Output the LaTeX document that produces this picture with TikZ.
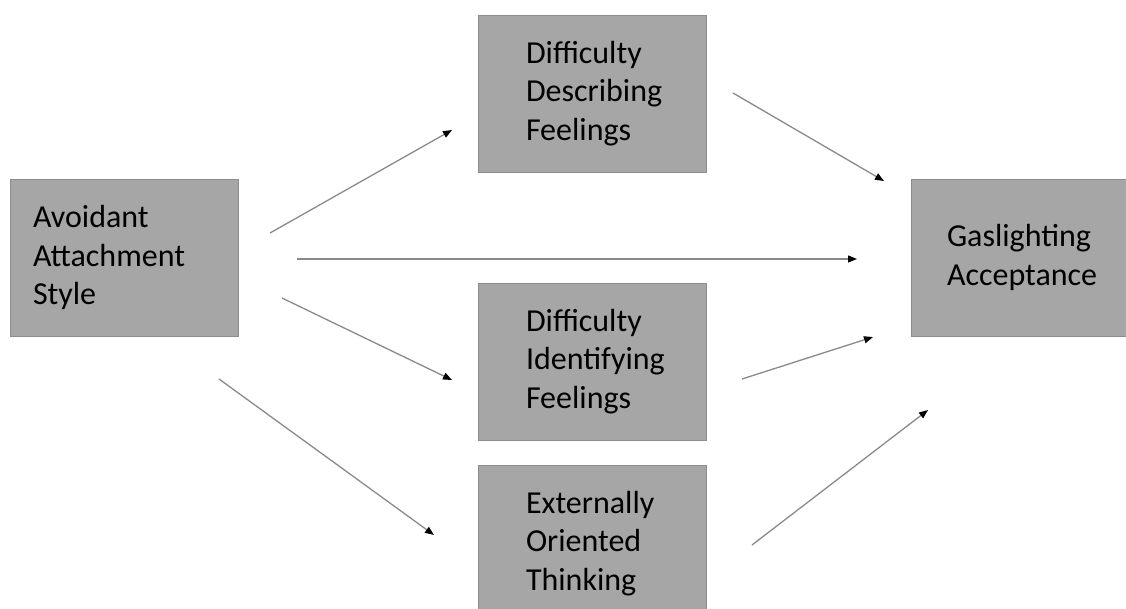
\documentclass[tikz,border=0pt]{standalone}
\usepackage{fontspec}
\setmainfont{Carlito}
\usepackage{tikz}
\usetikzlibrary{positioning,arrows.meta,calc}
\definecolor{boxfill}{HTML}{A6A6A6}
\definecolor{boxline}{HTML}{8C8C8C}
\definecolor{linkgray}{HTML}{8A8A8A}
\tikzset{
  construct/.style={draw=boxline, line width=1pt, fill=boxfill, align=left,
                    minimum width=228pt, minimum height=157pt, inner sep=0pt,
                    font=\fontsize{32}{38.5}\selectfont, text width=#1},
  construct/.default=132pt,
  path/.style={draw=linkgray, line width=1.3pt,
               -{Triangle[length=9pt,width=7pt,color=black]}},
}
\begin{document}
\begin{tikzpicture}[x=1pt,y=-1pt]
\useasboundingbox[clip] (0,0) rectangle (1126,608);
\node[construct=182pt] (avoid) at (124,257.5) {Avoidant\\Attachment\\Style};
\node[construct] (ddf) at (592,93.5) {Difficulty\\Describing\\Feelings};
\node[construct] (dif) at (592,361.5) {Difficulty\\Identifying\\Feelings};
\node[construct] (eot) at (592,543.5) {Externally\\Oriented\\Thinking};
\node[construct=156pt] (gas) at (1025,257.5) {Gaslighting\\Acceptance};
% path ends, kept clear of the boxes
\coordinate (a1) at (270,233);  \coordinate (b1) at (452,130);
\coordinate (a2) at (297,259);  \coordinate (b2) at (857,259);
\coordinate (a3) at (282,298);  \coordinate (b3) at (452,380);
\coordinate (a4) at (219,379);  \coordinate (b4) at (434,535);
\coordinate (a5) at (733,93);   \coordinate (b5) at (884,181);
\coordinate (a6) at (742,379);  \coordinate (b6) at (873,337);
\coordinate (a7) at (752,545);  \coordinate (b7) at (928,410);
\foreach \i in {1,...,7}
  \draw[path] (a\i) -- (b\i);
\end{tikzpicture}
\end{document}
